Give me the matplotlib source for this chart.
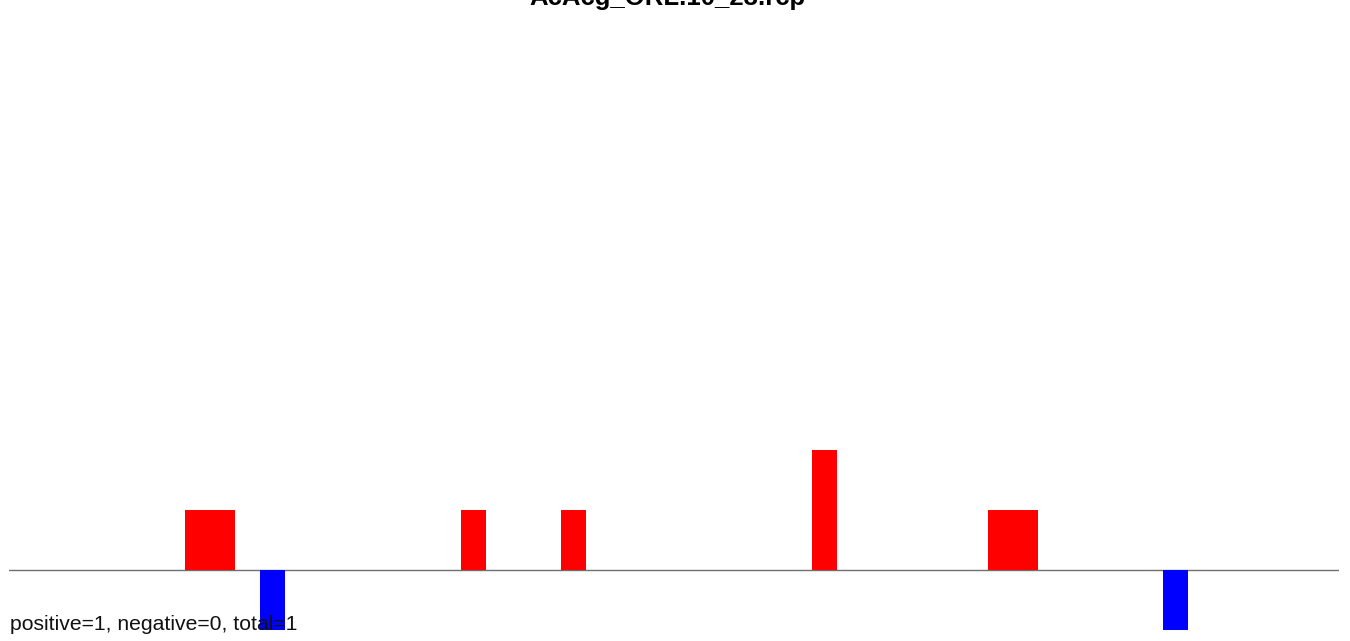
import matplotlib
matplotlib.use("Agg")
import matplotlib.pyplot as plt

title = "AcAcg_ORL.10_23.rcp"
footer = "positive=1, negative=0, total=1"
positions = list(range(53))
values = [0, 0, 0, 0, 0, 0, 0, 1, 1, 0,
          -1, 0, 0, 0, 0, 0, 0, 0, 1, 0,
          0, 0, 1, 0, 0, 0, 0, 0, 0, 0,
          0, 0, 2, 0, 0, 0, 0, 0, 0, 1,
          1, 0, 0, 0, 0, 0, -1, 0, 0, 0,
          0, 0, 0]

W, H = 1350, 641
fig = plt.figure(figsize=(W / 100, H / 100), dpi=100)
plt.rcParams['font.family'] = ['Liberation Sans', 'DejaVu Sans']

ax = fig.add_axes([9.3 / W, (H - 630) / H, 1329.5 / W, 600 / H])
colors = ['red' if v > 0 else 'blue' for v in values]
ax.bar(positions, values, width=1.0, align='edge', color=colors, linewidth=0, zorder=2)
ax.axhline(0, color='#707070', linewidth=1.0, zorder=1)
ax.set_xlim(0, 53)
ax.set_ylim(-1, 9)
ax.axis('off')

fig.text(667 / W, (H - 5) / H, title, ha='center', va='baseline',
         fontsize=18.5, fontweight='bold', color='black')
fig.text(10 / W, (H - 629.5) / H, footer, ha='left', va='baseline',
         fontsize=15.2, color='#111111', zorder=5)

fig.savefig("out.png", dpi=100)
